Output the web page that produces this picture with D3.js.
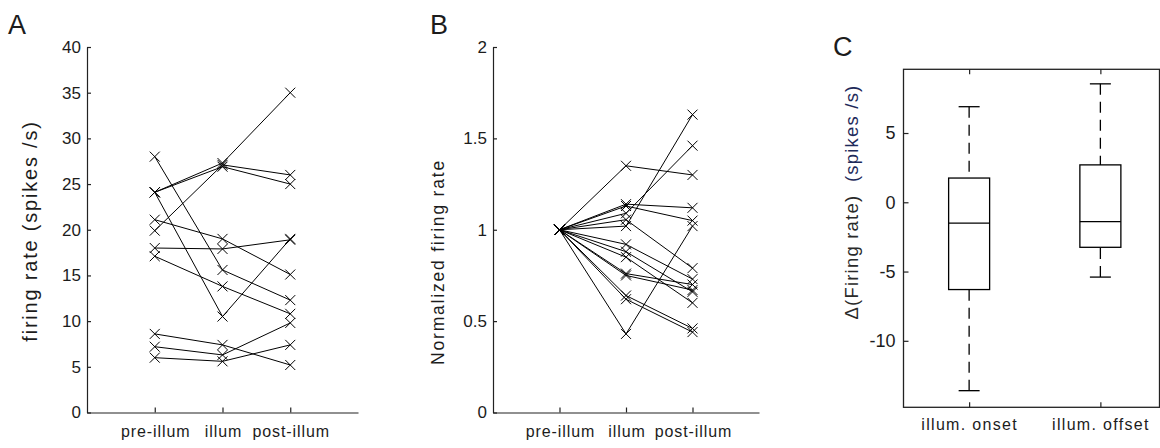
<!DOCTYPE html>
<html>
<head>
<meta charset="utf-8">
<script src="https://cdn.jsdelivr.net/npm/d3@7"></script>
<style>
  html, body { margin: 0; padding: 0; background: #fff; }
  svg { display: block; }
  text { font-family: "Liberation Sans", Arial, sans-serif; fill: #1c1c1c; }
</style>
</head>
<body>
<svg id="fig" width="1160" height="448"></svg>
<script>
// ---- data ----
const stages = ["pre-illum", "illum", "post-illum"];
const rateTicks = [0, 5, 10, 15, 20, 25, 30, 35, 40];
// absolute firing rates per cell (spikes/s)
const preRate   = [28.0, 24.1, 24.1, 24.1, 21.1, 19.9, 18.0, 17.1, 8.6, 7.2, 6.0];
const illumRate = [15.6, 27.3, 26.9, 10.5, 19.0, 27.1, 17.9, 13.8, 7.4, 6.3, 5.6];
const postRate  = [12.3, 35.0, 25.0, 19.0, 15.1, 26.0, 18.9, 10.8, 5.2, 9.8, 7.4];

const normTicks = [0, 0.5, 1, 1.5, 2];
// rates normalised to the pre-illumination value
const normPre   = [1, 1, 1, 1, 1, 1, 1, 1, 1, 1, 1, 1, 1, 1];
const normIllum = [1.35, 1.14, 1.13, 1.09, 1.055, 1.02, 0.92, 0.88, 0.85, 0.76, 0.75, 0.64, 0.62, 0.43];
const normPost  = [1.30, 1.12, 1.05, 1.46, 0.79, 1.63, 0.73, 0.66, 0.60, 0.70, 0.67, 0.46, 0.44, 1.02];

const boxGroups = ["illum. onset", "illum. offset"];
const deltaTicks = [-10, -5, 0, 5];
const boxMin = [-13.6, -5.4];
const boxQ1  = [-6.3, -3.25];
const boxMed = [-1.5, -1.4];
const boxQ3  = [1.75, 2.7];
const boxMax = [6.9, 8.55];

// ---- drawing ----
const svg = d3.select("#fig");
const tickFont = 17;
const plain = d => String(d);   // hyphen-minus for negative tick labels

function xMark(g, x, y) {
  g.append("path")
    .attr("d", `M${x-5},${y-5}L${x+5},${y+5}M${x-5},${y+5}L${x+5},${y-5}`)
    .attr("stroke", "#000").attr("stroke-width", 1).attr("fill", "none");
}

function styleAxis(g) {
  g.select(".domain").attr("stroke", "#222").attr("stroke-width", 1.2);
  g.selectAll(".tick line").attr("stroke", "#222").attr("stroke-width", 1.2);
  g.selectAll(".tick text").attr("fill", "#1c1c1c").attr("font-family", "Liberation Sans, Arial, sans-serif");
}

function panelLetter(txt, x, y) {
  svg.append("text").attr("x", x).attr("y", y).attr("font-size", 27).text(txt);
}

// category labels under the stage axes
function stageLabels(a) {
  a.selectAll(".tick text").attr("font-size", 16).attr("letter-spacing", 0.9).attr("dx", 0.45);
}

// Panel A: absolute rates
(function () {
  const x = d3.scaleLinear().domain([0, 4]).range([87, 358]);
  const y = d3.scaleLinear().domain([0, 40]).range([412.5, 47]);
  const g = svg.append("g");

  g.append("g").attr("transform", `translate(${x(0)},0)`)
    .call(d3.axisLeft(y).tickValues(rateTicks).tickFormat(plain).tickSize(-4).tickSizeOuter(0).tickPadding(6))
    .call(styleAxis)
    .call(a => a.selectAll(".tick text").attr("font-size", tickFont));
  g.append("g").attr("transform", `translate(0,${y(0)})`)
    .call(d3.axisBottom(x).tickValues([1, 2, 3]).tickFormat(d => stages[d - 1])
      .tickSize(-5).tickSizeOuter(0).tickPadding(13))
    .call(styleAxis)
    .call(stageLabels);

  const line = d3.line().x(d => x(d[0])).y(d => y(d[1]));
  preRate.forEach((p, i) => {
    const pts = [[1, p], [2, illumRate[i]], [3, postRate[i]]];
    g.append("path").attr("d", line(pts)).attr("fill", "none").attr("stroke", "#000").attr("stroke-width", 1);
    pts.forEach(d => xMark(g, x(d[0]), y(d[1])));
  });

  g.append("text")
    .attr("transform", `translate(37,${231}) rotate(-90)`)
    .attr("text-anchor", "middle").attr("font-size", 20).attr("letter-spacing", 1.8)
    .attr("fill", "#2a2230")
    .text("firing rate (spikes /s)");
  panelLetter("A", 8, 34);
})();

// Panel B: normalised rates
(function () {
  const x = d3.scaleLinear().domain([0, 4]).range([493, 759]);
  const y = d3.scaleLinear().domain([0, 2]).range([412.5, 47]);
  const g = svg.append("g");

  g.append("g").attr("transform", `translate(${x(0)},0)`)
    .call(d3.axisLeft(y).tickValues(normTicks).tickFormat(plain).tickSize(-4).tickSizeOuter(0).tickPadding(6))
    .call(styleAxis)
    .call(a => a.selectAll(".tick text").attr("font-size", tickFont));
  g.append("g").attr("transform", `translate(0,${y(0)})`)
    .call(d3.axisBottom(x).tickValues([1, 2, 3]).tickFormat(d => stages[d - 1])
      .tickSize(-5).tickSizeOuter(0).tickPadding(13))
    .call(styleAxis)
    .call(stageLabels);

  const line = d3.line().x(d => x(d[0])).y(d => y(d[1]));
  normPre.forEach((p, i) => {
    const pts = [[1, p], [2, normIllum[i]], [3, normPost[i]]];
    g.append("path").attr("d", line(pts)).attr("fill", "none").attr("stroke", "#000").attr("stroke-width", 1);
    pts.forEach(d => xMark(g, x(d[0]), y(d[1])));
  });

  g.append("text")
    .attr("transform", `translate(444,${262}) rotate(-90)`)
    .attr("text-anchor", "middle").attr("font-size", 17.5).attr("letter-spacing", 1.8)
    .text("Normalized firing rate");
  panelLetter("B", 430, 34);
})();

// Panel C: change in firing rate at onset / offset
(function () {
  const left = 903.5, right = 1159.5, top = 69.3, bottom = 407.3;
  const x = d3.scaleLinear().domain([0.5, 2.5]).range([left, 1166]);
  const y = d3.scaleLinear().domain([-14.8, 9.6]).range([bottom, top]);
  const g = svg.append("g");

  g.append("rect").attr("x", left).attr("y", top)
    .attr("width", right - left).attr("height", bottom - top)
    .attr("fill", "none").attr("stroke", "#222").attr("stroke-width", 1.3);

  g.append("g").attr("transform", `translate(${left},0)`)
    .call(d3.axisLeft(y).tickValues(deltaTicks).tickFormat(plain).tickSize(-5).tickSizeOuter(0).tickPadding(8))
    .call(styleAxis)
    .call(a => a.select(".domain").remove())
    .call(a => a.selectAll(".tick text").attr("font-size", 18));
  g.append("g").attr("transform", `translate(0,${bottom})`)
    .call(d3.axisBottom(x).tickValues([1, 2]).tickFormat(d => boxGroups[d - 1])
      .tickSize(-5).tickSizeOuter(0).tickPadding(11))
    .call(styleAxis)
    .call(a => a.select(".domain").remove())
    .call(a => a.selectAll(".tick text").attr("font-size", 16).attr("letter-spacing", 1.3).attr("fill", "#1a1a40"));
  g.append("g").attr("transform", `translate(0,${top})`)
    .call(d3.axisTop(x).tickValues([1, 2]).tickFormat("").tickSize(-5).tickSizeOuter(0))
    .call(styleAxis)
    .call(a => a.select(".domain").remove());

  const boxW = 41, capW = 21;
  boxGroups.forEach((name, i) => {
    const cx = x(i + 1);
    const dash = "11,7";
    g.append("line").attr("x1", cx).attr("x2", cx).attr("y1", y(boxMax[i])).attr("y2", y(boxQ3[i]))
      .attr("stroke", "#000").attr("stroke-width", 1.3).attr("stroke-dasharray", dash);
    g.append("line").attr("x1", cx).attr("x2", cx).attr("y1", y(boxMin[i])).attr("y2", y(boxQ1[i]))
      .attr("stroke", "#000").attr("stroke-width", 1.3).attr("stroke-dasharray", dash);
    [boxMax[i], boxMin[i]].forEach(v => {
      g.append("line").attr("x1", cx - capW / 2).attr("x2", cx + capW / 2).attr("y1", y(v)).attr("y2", y(v))
        .attr("stroke", "#000").attr("stroke-width", 1.3);
    });
    g.append("rect").attr("x", cx - boxW / 2).attr("y", y(boxQ3[i]))
      .attr("width", boxW).attr("height", y(boxQ1[i]) - y(boxQ3[i]))
      .attr("fill", "none").attr("stroke", "#000").attr("stroke-width", 1.3);
    g.append("line").attr("x1", cx - boxW / 2).attr("x2", cx + boxW / 2)
      .attr("y1", y(boxMed[i])).attr("y2", y(boxMed[i]))
      .attr("stroke", "#000").attr("stroke-width", 1.3);
  });

  const lab = g.append("text")
    .attr("transform", `translate(858,${202}) rotate(-90)`)
    .attr("text-anchor", "middle").attr("font-size", 18.5).attr("letter-spacing", 1.2);
  lab.append("tspan").attr("fill", "#2a2a2a").text("\u0394(Firing rate)");
  lab.append("tspan").attr("fill", "#1e2a5a").text("\u00a0\u00a0(spikes /s)");
  panelLetter("C", 833, 56);
})();
</script>
</body>
</html>
